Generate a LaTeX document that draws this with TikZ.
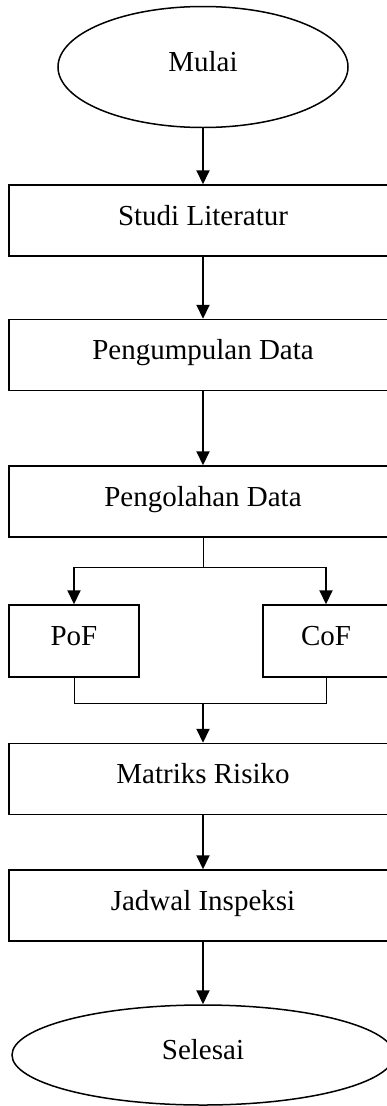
\documentclass[tikz,border=0pt]{standalone}
\usepackage{fontspec}
\setmainfont{Liberation Serif}
\usetikzlibrary{shapes.geometric,arrows.meta}

\begin{document}
\begin{tikzpicture}[x = 1pt, y = -1pt,
    kotak/.style = {draw, line width = 1.5pt, inner sep = 0pt,
                    minimum height = 71pt, text height = 18pt, text depth = 9pt},
    oval/.style = {draw, ellipse, line width = 1.5pt, inner sep = 0pt,
                   text height = 18pt, text depth = 9pt},
    panah/.style = {-{Triangle[length = 14pt, width = 13pt]}, line width = 2pt},
    garis/.style = {line width = 0.7pt},
    font = \fontsize{29}{34}\selectfont]
        \useasboundingbox (0,0) rectangle (387,1106);

        \node[oval, minimum width = 290pt, minimum height = 121pt] (mulai) at (203,67) {Mulai};
        \node[kotak, minimum width = 388pt] (studi) at (203,220.5) {Studi Literatur};
        \node[kotak, minimum width = 388pt] (kumpul) at (203,355) {Pengumpulan Data};
        \node[kotak, minimum width = 388pt] (olah) at (203,501.5) {Pengolahan Data};
        \node[kotak, minimum width = 130pt, minimum height = 72pt] (pof) at (74,641) {PoF};
        \node[kotak, minimum width = 126pt, minimum height = 72pt] (cof) at (326,641) {CoF};
        \node[kotak, minimum width = 388pt] (matriks) at (203,779) {Matriks Risiko};
        \node[kotak, minimum width = 388pt] (jadwal) at (203,905.5) {Jadwal Inspeksi};
        \node[oval, minimum width = 382pt, minimum height = 100pt] (selesai) at (203,1055) {Selesai};

        \coordinate (cabang) at (203,567);
        \coordinate (gabung) at (203,703);

        \draw[panah] (mulai) -- (studi);
        \draw[panah] (studi) -- (kumpul);
        \draw[panah] (kumpul) -- (olah);

        \draw[garis] (olah) -- (cabang);
        \draw[garis] (cabang -| pof) -- (cabang -| cof);
        \draw[panah] (cabang -| pof) -- (pof);
        \draw[panah] (cabang -| cof) -- (cof);
        \draw[garis] (pof) -- (gabung -| pof) -- (gabung -| cof) -- (cof);

        \draw[panah] (gabung) -- (matriks);
        \draw[panah] (matriks) -- (jadwal);
        \draw[panah] (jadwal) -- (selesai);
\end{tikzpicture}
\end{document}
